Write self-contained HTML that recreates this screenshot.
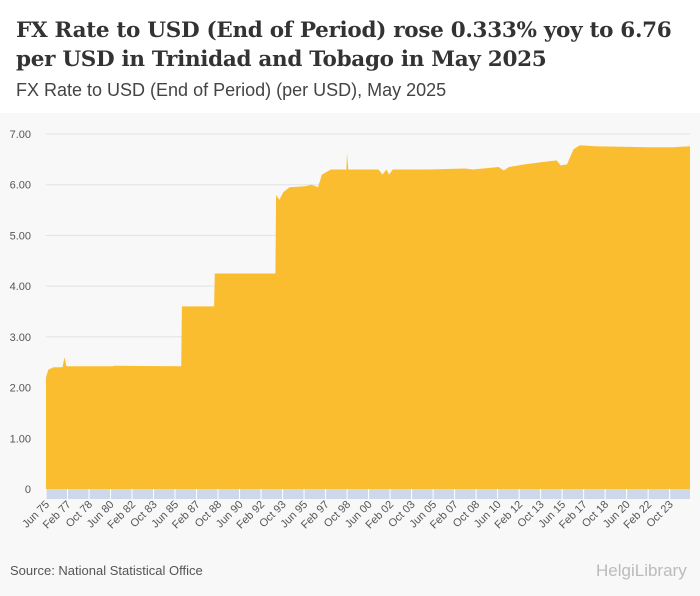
<!DOCTYPE html>
<html><head><meta charset="utf-8"><style>
body{margin:0;width:700px;height:596px;background:#f8f8f8;font-family:"Liberation Sans",sans-serif;overflow:hidden}
#hdr{position:absolute;left:0;top:0;width:700px;height:113px;background:#fff}
h1{position:absolute;left:16px;top:16px;margin:0;font:bold 21.5px/29px "DejaVu Serif","Liberation Serif",serif;color:#333;width:684px;letter-spacing:-0.3px}
h2{position:absolute;left:16px;top:80px;margin:0;font:normal 18px "Liberation Sans",sans-serif;color:#444}
#src{position:absolute;left:10px;top:563px;font-size:13px;color:#555}
#logo{position:absolute;left:596px;top:561px;font-size:17px;color:#bbb}
</style></head><body>
<div id="hdr"></div>
<h1>FX Rate to USD (End of Period) rose 0.333% yoy to 6.76 per USD in Trinidad and Tobago in May 2025</h1>
<h2>FX Rate to USD (End of Period) (per USD), May 2025</h2>
<svg id="c" width="700" height="596" style="position:absolute;left:0;top:0"></svg>
<div id="src">Source: National Statistical Office</div>
<div id="logo">HelgiLibrary</div>
<script>
const dates=[1975.42,1975.6,1976.0,1976.7,1976.85,1977.0,1980.6,1980.7,1985.9,1985.95,1988.45,1988.5,1993.2,1993.25,1993.5,1993.8,1994.3,1995.5,1996.0,1996.5,1996.8,1997.5,1998.7,1998.75,1998.85,2001.2,2001.5,2001.8,2002.0,2002.3,2005.0,2007.9,2008.5,2010.5,2010.9,2011.3,2012.5,2014.0,2015.0,2015.3,2015.8,2016.3,2016.8,2018.0,2020.0,2022.0,2024.0,2025.33];
const values=[2.2,2.35,2.4,2.4,2.6,2.42,2.42,2.43,2.42,3.6,3.6,4.25,4.25,5.8,5.7,5.85,5.95,5.97,6.0,5.95,6.2,6.3,6.3,6.62,6.3,6.3,6.2,6.3,6.2,6.3,6.3,6.32,6.3,6.35,6.28,6.35,6.4,6.45,6.48,6.38,6.4,6.7,6.78,6.76,6.75,6.74,6.74,6.76];
const yTicks=[0,1,2,3,4,5,6,7];
const yLabels=["0","1.00","2.00","3.00","4.00","5.00","6.00","7.00"];
const xLabels=["Jun 75","Feb 77","Oct 78","Jun 80","Feb 82","Oct 83","Jun 85","Feb 87","Oct 88","Jun 90","Feb 92","Oct 93","Jun 95","Feb 97","Oct 98","Jun 00","Feb 02","Oct 03","Jun 05","Feb 07","Oct 08","Jun 10","Feb 12","Oct 13","Jun 15","Feb 17","Oct 18","Jun 20","Feb 22","Oct 23"];
const X0=46,X1=690,Y0=489,Y7=134,T0=1975.42,T1=2025.33;
const xs=t=>X0+(t-T0)/(T1-T0)*(X1-X0);
const ys=v=>Y0-(v/7)*(Y0-Y7);
const svg=document.getElementById('c');const NS='http://www.w3.org/2000/svg';
function mk(tag,a){const e=document.createElementNS(NS,tag);for(const k in a)e.setAttribute(k,a[k]);svg.appendChild(e);return e;}
yTicks.forEach((v,i)=>{
 const g=mk('line',{x1:X0,x2:690,y1:ys(v),y2:ys(v),stroke:'#e2e2e2'});
 
 
 const t=mk('text',{x:31,y:ys(v)+4,'text-anchor':'end','font-size':'11','fill':'#555','font-family':'Liberation Sans'});
 t.textContent=yLabels[i];
 
 
});
let d='M'+xs(dates[0])+','+Y0;
dates.forEach((t,i)=>{d+=' L'+xs(t).toFixed(1)+','+ys(values[i]).toFixed(1);});
d+=' L'+xs(dates[dates.length-1])+','+Y0+' Z';
const area=mk('path',{d:d,fill:'#fbbd30'});


const band=mk('rect',{x:X0,y:Y0,width:X1-X0,height:10,fill:'#cdd8ea'});


xLabels.forEach((l,i)=>{
 const t=T0+i*20/12;const x=xs(t);
 const tk=mk('line',{x1:x,x2:x,y1:Y0,y2:Y0+10,stroke:'#fff'});
 
 
 const tx=mk('text',{x:x+4,y:Y0+16,'text-anchor':'end','font-size':'11','fill':'#555','font-family':'Liberation Sans',transform:'rotate(-45 '+(x+4)+' '+(Y0+16)+')'});
 tx.textContent=l;
 
 
});
</script>
</body></html>
